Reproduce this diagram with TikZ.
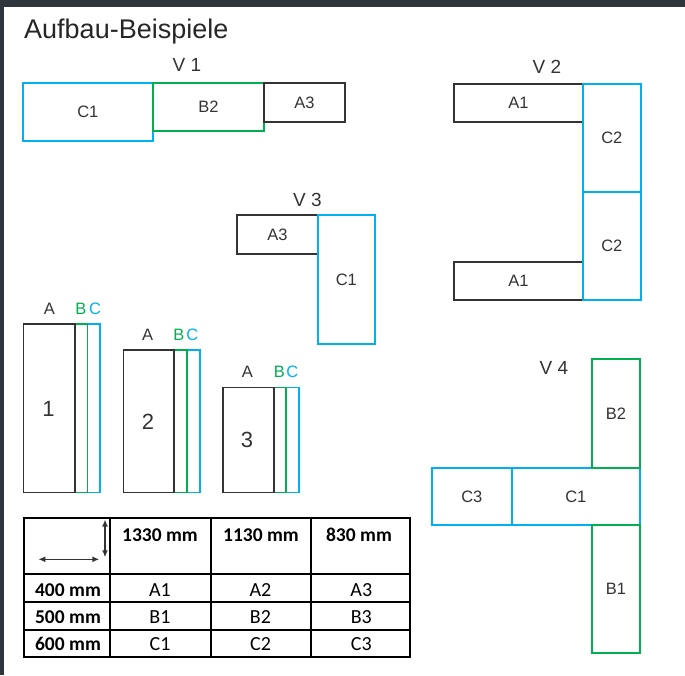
\documentclass[tikz,border=0pt]{standalone}
\usepackage{fontspec}
\setmainfont{Liberation Sans}
\newfontfamily\tabfont{Carlito}
\usetikzlibrary{arrows.meta}
\definecolor{cy}{HTML}{00B0F0}
\definecolor{gr}{HTML}{00B050}
\definecolor{dk}{HTML}{333333}
\definecolor{framec}{HTML}{2F353D}
\begin{document}
\begin{tikzpicture}[x=1pt,y=-1pt,
  box/.style={draw, line width=1.7pt, inner sep=0pt, anchor=north west, text=dk, font=\fontsize{16.5}{16.5}\selectfont},
  cbox/.style={box, draw=cy},
  gbox/.style={box, draw=gr},
  abox/.style={box, draw=dk},
  vlabel/.style={text=dk, inner sep=0pt, font=\fontsize{19}{19}\selectfont},
  plabel/.style={inner sep=0pt, font=\fontsize{16.5}{16.5}\selectfont},
  pnum/.style={text=dk, inner sep=0pt, font=\fontsize{22}{22}\selectfont},
  tline/.style={line width=2.2pt, black},
  thead/.style={inner sep=0pt, font=\tabfont\bfseries\fontsize{19.5}{19.5}\selectfont},
  tcell/.style={inner sep=0pt, font=\tabfont\fontsize{20}{20}\selectfont},
  dimarrow/.style={line width=1.4pt, dk, {Latex[length=7pt,width=6pt]}-{Latex[length=7pt,width=6pt]}}
]
\useasboundingbox (0,0) rectangle (685,675);
\fill[framec] (0,0) rectangle (685,6.7);
\fill[framec] (0,0) rectangle (3.5,675);

% title
\node[anchor=base west, inner sep=0pt, text=black!85, font=\fontsize{27}{27}\selectfont] (title) at (24,38.5) {Aufbau-Beispiele};

% V1
\node[vlabel] (v1) at (187,65) {V 1};
\node[cbox, minimum width=130pt, minimum height=58pt] (v1c1) at (22,82) {C1};
\node[gbox, minimum width=111pt, minimum height=48pt] (v1b2) at (152,82) {B2};
\node[abox, minimum width=81pt, minimum height=39pt] (v1a3) at (263,82) {A3};

% V2
\node[vlabel] (v2) at (547,67) {V 2};
\node[abox, minimum width=129pt, minimum height=38pt] (v2a1t) at (453,83) {A1};
\node[abox, minimum width=129pt, minimum height=38pt] (v2a1b) at (453,261) {A1};
\node[cbox, minimum width=58pt, minimum height=108pt] (v2c2t) at (582,83) {C2};
\node[cbox, minimum width=58pt, minimum height=108pt] (v2c2b) at (582,191) {C2};

% V3
\node[vlabel] (v3) at (307.5,200) {V 3};
\node[abox, minimum width=81pt, minimum height=39pt] (v3a3) at (236,214) {A3};
\node[cbox, minimum width=57pt, minimum height=129pt] (v3c1) at (317,214) {C1};

% V4
\node[vlabel] (v4) at (554,368) {V 4};
\node[cbox, minimum width=80pt, minimum height=57pt] (v4c3) at (431,467) {C3};
\node[cbox, minimum width=128pt, minimum height=57pt] (v4c1) at (511,467) {C1};
\node[gbox, minimum width=48pt, minimum height=109pt] (v4b2) at (591,358) {B2};
\node[gbox, minimum width=48pt, minimum height=128pt] (v4b1) at (591,524) {B1};

% panels
% panel 1
\node[cbox, minimum width=76.6pt, minimum height=168.4pt] (p1c) at (22.7,323.3) {};
\node[gbox, minimum width=64pt, minimum height=168.4pt] (p1b) at (22.7,323.3) {};
\node[abox, fill=white, minimum width=51.3pt, minimum height=168.4pt] (p1a) at (22.7,323.3) {};
\node[pnum] (p1n) at (48.5,409) {1};
\node[plabel, text=dk] (p1la) at (49.3,309) {A};
\node[plabel, text=gr] (p1lb) at (81,309) {B};
\node[plabel, text=cy] (p1lc) at (95,309) {C};
% panel 2
\node[cbox, minimum width=76.3pt, minimum height=142.7pt] (p2c) at (122.7,349) {};
\node[gbox, minimum width=63.3pt, minimum height=142.7pt] (p2b) at (122.7,349) {};
\node[abox, fill=white, minimum width=50.6pt, minimum height=142.7pt] (p2a) at (122.7,349) {};
\node[pnum] (p2n) at (148,421.7) {2};
\node[plabel, text=dk] (p2la) at (147.7,335) {A};
\node[plabel, text=gr] (p2lb) at (179,335) {B};
\node[plabel, text=cy] (p2lc) at (192.3,335) {C};
% panel 3
\node[cbox, minimum width=76pt, minimum height=105pt] (p3c) at (222,386.7) {};
\node[gbox, minimum width=63.3pt, minimum height=105pt] (p3b) at (222,386.7) {};
\node[abox, fill=white, minimum width=51.3pt, minimum height=105pt] (p3a) at (222,386.7) {};
\node[pnum] (p3n) at (247,440) {3};
\node[plabel, text=dk] (p3la) at (247.3,371.7) {A};
\node[plabel, text=gr] (p3lb) at (279.3,371.7) {B};
\node[plabel, text=cy] (p3lc) at (292.3,371.7) {C};

% table
\draw[tline] (24,518.3) rectangle (410,656.7);
\draw[tline] (110,518.3) -- (110,656.7);
\draw[tline] (210.7,518.3) -- (210.7,656.7);
\draw[tline] (311,518.3) -- (311,656.7);
\draw[tline] (24,574) -- (410,574);
\draw[tline] (24,602.3) -- (410,602.3);
\draw[tline] (24,630) -- (410,630);

\coordinate (hl) at (38.3,559.3);
\coordinate (hr) at (99.3,559.3);
\coordinate (vt) at (105,519.5);
\coordinate (vb) at (105,557.3);
\draw[dimarrow] (hl) -- (hr);
\draw[dimarrow] (vt) -- (vb);

\node[thead] (h1) at (160,535) {1330 mm};
\node[thead] (h2) at (261,535) {1130 mm};
\node[thead] (h3) at (359,535) {830 mm};

\node[thead] (r1) at (68,590) {400 mm};
\node[thead] (r2) at (68,616.7) {500 mm};
\node[thead] (r3) at (68,644.3) {600 mm};

\node[tcell] (a1) at (160,590) {A1};
\node[tcell] (a2) at (260.5,590) {A2};
\node[tcell] (a3) at (361.3,590) {A3};
\node[tcell] (b1) at (160,616.7) {B1};
\node[tcell] (b2) at (260.5,616.7) {B2};
\node[tcell] (b3) at (361.3,616.7) {B3};
\node[tcell] (c1) at (160,644.3) {C1};
\node[tcell] (c2) at (260.5,644.3) {C2};
\node[tcell] (c3) at (361.3,644.3) {C3};
\end{tikzpicture}
\end{document}
